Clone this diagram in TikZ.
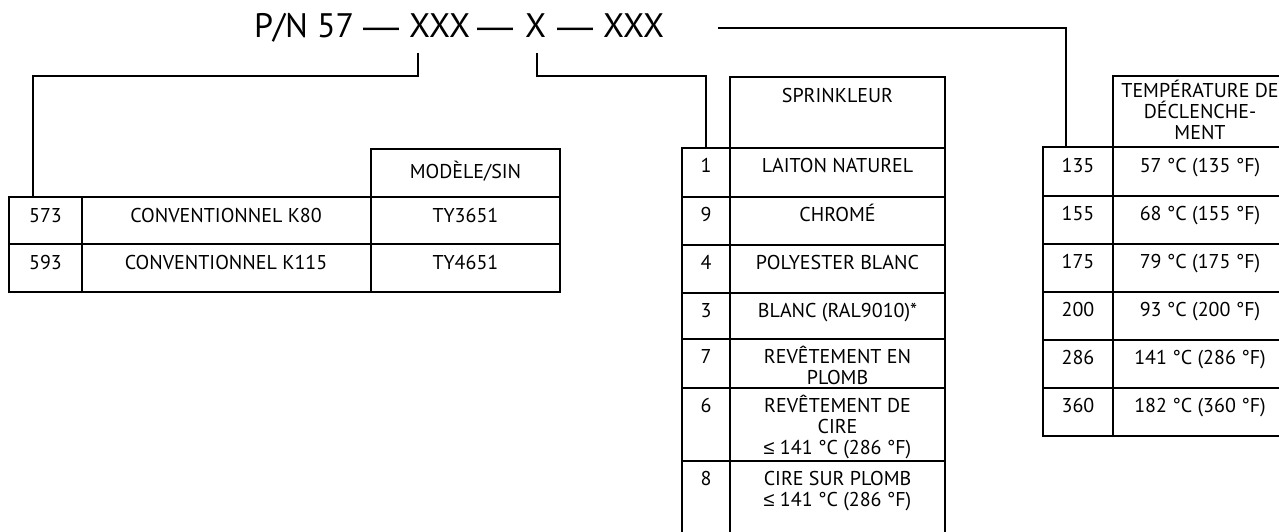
\documentclass[tikz,border=0pt]{standalone}
\usepackage{fontspec}
\setmainfont{PT Sans}
\newfontfamily\symfont{Liberation Sans}
\begin{document}
\begin{tikzpicture}[x=1pt,y=-1pt,
  cellbox/.style={draw=black,line width=2.7pt,anchor=north west,inner sep=0pt,outer sep=0pt},
  txt/.style={anchor=base,inner sep=0pt,font=\fontsize{20}{21}\selectfont},
  ttl/.style={anchor=base west,inner sep=0pt,font=\fontsize{34}{40}\selectfont},
  tdash/.style={anchor=base,inner sep=0pt,font=\fontsize{36}{40}\symfont},
  conn/.style={line width=2.7pt,line join=miter}]
\newcommand\mkcell[5]{\node[cellbox,minimum width={#4-#2},minimum height={#5-#3}] (#1) at (#2,#3) {};}
\newcommand\mylesym{{\symfont ≤}}
\clip (0,0) rectangle (1279,531);
\fill[white] (0,0) rectangle (1279,531);
% title
\node[ttl] (t1) at (254,37) {P/N 57};
\node[tdash] (d1) at (381,38) {—};
\node[ttl] (x1) at (409,37) {XXX};
\node[tdash] (d2) at (495,38) {—};
\node[ttl] (x2) at (525,37) {X};
\node[tdash] (d3) at (575,38) {—};
\node[ttl] (x3) at (603,37) {XXX};
% left table
\mkcell{lh}{371}{149}{560}{197}
\mkcell{la1}{9}{197}{82}{244}
\mkcell{lb1}{82}{197}{371}{244}
\mkcell{lc1}{371}{197}{560}{244}
\mkcell{la2}{9}{244}{82}{292}
\mkcell{lb2}{82}{244}{371}{292}
\mkcell{lc2}{371}{244}{560}{292}
\node[txt] (lht) at (465.5,178) {MODÈLE/SIN};
\node[txt] (la1t) at (45.5,222) {573};
\node[txt] (lb1t) at (226,222) {CONVENTIONNEL K80};
\node[txt] (lc1t) at (465.5,222) {TY3651};
\node[txt] (la2t) at (45.5,269) {593};
\node[txt] (lb2t) at (226,269) {CONVENTIONNEL K115};
\node[txt] (lc2t) at (465.5,269) {TY4651};
% middle table
\mkcell{mh}{730}{77}{945}{148}
\mkcell{ma1}{682}{148}{730}{197}
\mkcell{mb1}{730}{148}{945}{197}
\mkcell{ma2}{682}{197}{730}{245}
\mkcell{mb2}{730}{197}{945}{245}
\mkcell{ma3}{682}{245}{730}{293}
\mkcell{mb3}{730}{245}{945}{293}
\mkcell{ma4}{682}{293}{730}{339}
\mkcell{mb4}{730}{293}{945}{339}
\mkcell{ma5}{682}{339}{730}{388}
\mkcell{mb5}{730}{339}{945}{388}
\mkcell{ma6}{682}{388}{730}{461}
\mkcell{mb6}{730}{388}{945}{461}
\mkcell{ma7}{682}{461}{730}{545}
\mkcell{mb7}{730}{461}{945}{545}
\node[txt] (mht) at (837.5,102) {SPRINKLEUR};
\node[txt] (ma1t) at (706,172) {1};
\node[txt] (mb1t) at (837.5,172) {LAITON NATUREL};
\node[txt] (ma2t) at (706,221) {9};
\node[txt] (mb2t) at (837.5,221) {CHROMÉ};
\node[txt] (ma3t) at (706,269) {4};
\node[txt] (mb3t) at (837.5,269) {POLYESTER BLANC};
\node[txt] (ma4t) at (706,317) {3};
\node[txt] (mb4t) at (837.5,317) {BLANC (RAL9010)*};
\node[txt] (ma5t) at (706,363) {7};
\node[txt] (mb5t) at (837.5,363) {REVÊTEMENT EN};
\node[txt] (mb5u) at (837.5,384) {PLOMB};
\node[txt] (ma6t) at (706,412) {6};
\node[txt] (mb6t) at (837.5,412) {REVÊTEMENT DE};
\node[txt] (mb6u) at (837.5,433) {CIRE};
\node[txt] (mb6v) at (837.5,454) {\mylesym{} 141 °C (286 °F)};
\node[txt] (ma7t) at (706,485) {8};
\node[txt] (mb7t) at (837.5,485) {CIRE SUR PLOMB};
\node[txt] (mb7u) at (837.5,506) {\mylesym{} 141 °C (286 °F)};
% right table
\mkcell{rh}{1113}{76}{1290}{147}
\mkcell{ra1}{1043}{147}{1113}{196}
\mkcell{rb1}{1113}{147}{1290}{196}
\mkcell{ra2}{1043}{196}{1113}{244}
\mkcell{rb2}{1113}{196}{1290}{244}
\mkcell{ra3}{1043}{244}{1113}{292}
\mkcell{rb3}{1113}{244}{1290}{292}
\mkcell{ra4}{1043}{292}{1113}{340}
\mkcell{rb4}{1113}{292}{1290}{340}
\mkcell{ra5}{1043}{340}{1113}{388}
\mkcell{rb5}{1113}{340}{1290}{388}
\mkcell{ra6}{1043}{388}{1113}{436}
\mkcell{rb6}{1113}{388}{1290}{436}
\node[txt] (rht) at (1200,97) {TEMPÉRATURE DE};
\node[txt] (rhu) at (1200,118) {DÉCLENCHE-};
\node[txt] (rhv) at (1200,139) {MENT};
\node[txt] (ra1t) at (1078,172) {135};
\node[txt] (rb1t) at (1200,172) {57 °C (135 °F)};
\node[txt] (ra2t) at (1078,220) {155};
\node[txt] (rb2t) at (1200,220) {68 °C (155 °F)};
\node[txt] (ra3t) at (1078,268) {175};
\node[txt] (rb3t) at (1200,268) {79 °C (175 °F)};
\node[txt] (ra4t) at (1078,316) {200};
\node[txt] (rb4t) at (1200,316) {93 °C (200 °F)};
\node[txt] (ra5t) at (1078,364) {286};
\node[txt] (rb5t) at (1200,364) {141 °C (286 °F)};
\node[txt] (ra6t) at (1078,412) {360};
\node[txt] (rb6t) at (1200,412) {182 °C (360 °F)};
% connectors
\coordinate (k1) at (418,53);
\coordinate (k1e) at (33,197);
\coordinate (k2) at (537,53);
\coordinate (k3) at (718,28);
\coordinate (k3e) at (1066,147);
\draw[conn] (k1) -- ++(0,23) -| (k1e);
\draw[conn] (k2) -- ++(0,23) -| (ma1.north);
\draw[conn] (k3) -| (k3e);
\end{tikzpicture}
\end{document}
